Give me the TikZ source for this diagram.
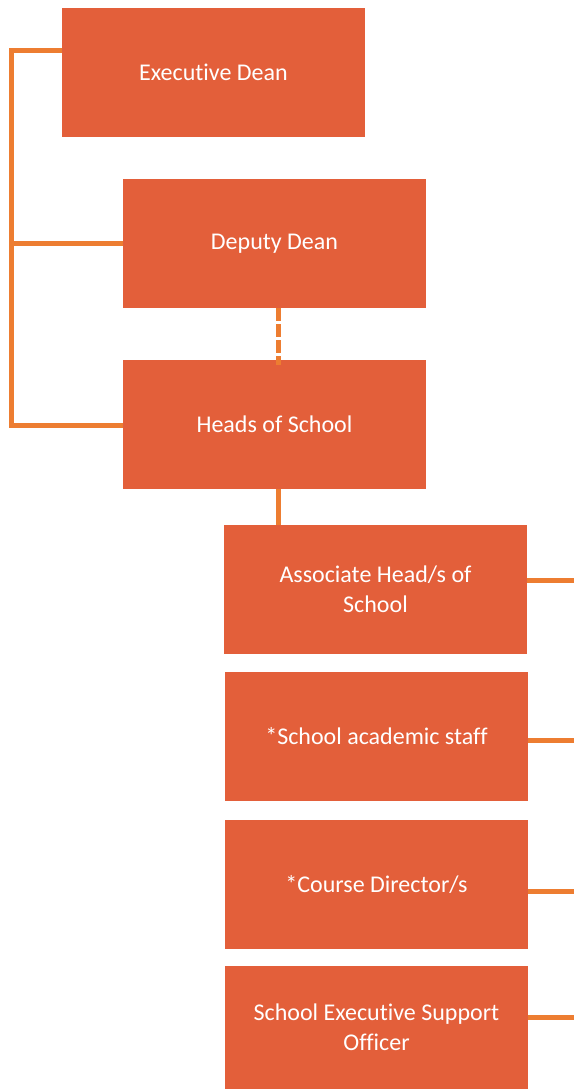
\documentclass[tikz,border=0pt]{standalone}
\usepackage{fontspec}
\setmainfont{Carlito}[Ligatures=NoCommon]
\definecolor{boxfill}{RGB}{227,95,58}
\definecolor{linkorange}{RGB}{237,125,49}

\begin{document}
\begin{tikzpicture}[x=1pt, y=-1pt,
    box/.style={rectangle, fill=boxfill, text=white, minimum width=303pt, minimum height=129pt, inner sep=0pt, align=center, font=\fontsize{24}{30}\selectfont},
    link/.style={draw=linkorange, line width=5pt},
    dashlink/.style={link, dash pattern=on 13pt off 3pt}]
    \useasboundingbox (0, 0) rectangle (574, 1089);

    % Nodes
    \node[box] at (213.5, 72.5) (exec) {Executive Dean};
    \node[box] at (274.5, 243.5) (deputy) {Deputy Dean};
    \node[box] at (274.5, 424.5) (heads) {Heads of School};
    \node[box] at (375.5, 589.5) (assoc) {Associate Head/s of\\School};
    \node[box] at (376.5, 736.5) (staff) {*School academic staff};
    \node[box] at (376.5, 884.5) (course) {*Course Director/s};
    \node[box, minimum height=123pt] at (376.5, 1027.5) (support) {School Executive Support\\Officer};

    % left spine
    \coordinate (spinetop) at (11.5, 50.5);
    \coordinate (spinebot) at (11.5, 425.5);
    % loose ends on the right
    \coordinate (r1) at (574, 580.5);
    \coordinate (r2) at (574, 740);
    \coordinate (r3) at (574, 891);
    \coordinate (r4) at (574, 1017.5);

    \draw[link] (exec.west |- spinetop) -- (spinetop) -- (spinebot) -- (heads.west |- spinebot);
    \draw[link] (deputy.west) -- (deputy.west -| spinetop);

    \draw[dashlink] ([xshift=4]deputy.south) -- ([xshift=4, yshift=-5]heads.north);
    \draw[link] ([xshift=4]heads.south) -- ([xshift=4]heads.south |- assoc.north);

    \draw[link] (assoc.east |- r1) -- (r1);
    \draw[link] (staff.east |- r2) -- (r2);
    \draw[link] (course.east |- r3) -- (r3);
    \draw[link] (support.east |- r4) -- (r4);

\end{tikzpicture}
\end{document}
